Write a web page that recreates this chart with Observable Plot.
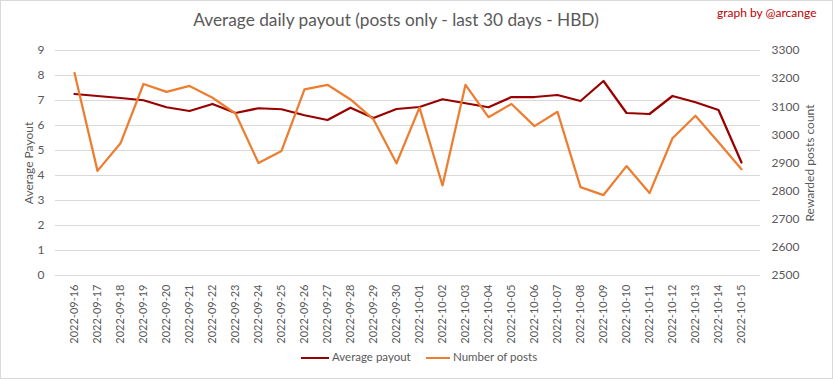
<!DOCTYPE html>
<html>
<head>
<meta charset="utf-8">
<script src="https://cdn.jsdelivr.net/npm/d3@7"></script>
<script src="https://cdn.jsdelivr.net/npm/@observablehq/plot@0.6"></script>
<style>
  body { margin: 0; background: #fff; }
  #wrap { position: relative; width: 833px; height: 379px; overflow: hidden; font-family: Lato, "Open Sans", sans-serif; }
  #frame { position: absolute; left: 0; top: 0; width: 833px; height: 379px; box-sizing: border-box; border: 1px solid #d9d9d9; pointer-events: none; }
  #chart { position: absolute; left: 0; top: 0; }
  #title { position: absolute; left: 396px; top: 9px; transform: translateX(-50%); white-space: nowrap; font-size: 17.3px; color: #595959; font-weight: 400; }
  #credit { position: absolute; left: 717px; top: 5px; white-space: nowrap; font-size: 12px; color: #c00000; }
  #legend { position: absolute; top: 350px; left: 0; width: 833px; height: 16px; font-size: 11.5px; color: #595959; }
  .item { position: absolute; top: 0; white-space: nowrap; }
  .swatch { position: absolute; top: 7px; height: 0; border-top: 2.5px solid; }
</style>
</head>
<body>
<div id="wrap">
  <div id="chart"></div>
  <div id="title">Average daily payout (posts only - last 30 days - HBD)</div>
  <div id="credit">graph by @arcange</div>
  <div id="legend"></div>
  <div id="frame"></div>
</div>
<script>
const dates = [
  "2022-09-16","2022-09-17","2022-09-18","2022-09-19","2022-09-20","2022-09-21","2022-09-22","2022-09-23",
  "2022-09-24","2022-09-25","2022-09-26","2022-09-27","2022-09-28","2022-09-29","2022-09-30","2022-10-01",
  "2022-10-02","2022-10-03","2022-10-04","2022-10-05","2022-10-06","2022-10-07","2022-10-08","2022-10-09",
  "2022-10-10","2022-10-11","2022-10-12","2022-10-13","2022-10-14","2022-10-15"
];
const avgPayout = [
  7.26, 7.18, 7.10, 7.01, 6.73, 6.58, 6.86, 6.50, 6.69, 6.65,
  6.41, 6.22, 6.71, 6.30, 6.66, 6.74, 7.05, 6.89, 6.73, 7.14,
  7.14, 7.22, 6.98, 7.78, 6.50, 6.46, 7.18, 6.93, 6.62, 4.52
];
const numPosts = [
  3220, 2872, 2970, 3181, 3153, 3174, 3132, 3076, 2900, 2943,
  3162, 3178, 3126, 3055, 2899, 3097, 2820, 3178, 3063, 3110,
  3031, 3082, 2814, 2786, 2889, 2793, 2988, 3068, 2974, 2878
];
const leftTicks = [0, 1, 2, 3, 4, 5, 6, 7, 8, 9];
const rightTicks = [2500, 2600, 2700, 2800, 2900, 3000, 3100, 3200, 3300];
const seriesNames = ["Average payout", "Number of posts"];
const seriesColors = ["#990000", "#ED7D31"];

// secondary axis mapped onto the primary scale domain
const rMin = rightTicks[0], rMax = rightTicks[rightTicks.length - 1];
const lMax = leftTicks[leftTicks.length - 1];
const toLeft = v => (v - rMin) * lMax / (rMax - rMin);
const fromLeft = v => String(Math.round(v * (rMax - rMin) / lMax + rMin));

const data = dates.map((d, i) => ({date: d, pay: avgPayout[i], posts: numPosts[i], postsY: toLeft(numPosts[i])}));

const chart = Plot.plot({
  width: 833,
  height: 379,
  marginTop: 50,
  marginBottom: 104,
  marginLeft: 55,
  marginRight: 73,
  style: {fontFamily: "Lato, 'Open Sans', sans-serif", fontSize: "12px", color: "#595959", background: "transparent", overflow: "visible"},
  x: {type: "point", domain: dates, padding: 0.5},
  y: {domain: [0, lMax]},
  marks: [
    Plot.gridY(leftTicks, {stroke: "#d9d9d9", strokeOpacity: 1, strokeWidth: 1}),
    Plot.axisY(leftTicks, {anchor: "left", tickSize: 0, tickPadding: 11, label: null, fill: "#595959"}),
    Plot.axisY(rightTicks.map(toLeft), {anchor: "right", tickSize: 0, tickPadding: 11, label: null, tickFormat: fromLeft, fill: "#595959"}),
    Plot.axisX({tickSize: 0, tickRotate: -90, tickPadding: 9, label: null, fontSize: 11, fill: "#595959"}),
    Plot.text(["Average Payout"], {frameAnchor: "left", textAnchor: "middle", dx: -26, rotate: -90, fontSize: 12, fill: "#595959"}),
    Plot.text(["Rewarded posts count"], {frameAnchor: "right", textAnchor: "middle", dx: 50, rotate: -90, fontSize: 12, fill: "#595959"}),
    Plot.line(data, {x: "date", y: "pay", stroke: seriesColors[0], strokeWidth: 2.25}),
    Plot.line(data, {x: "date", y: "postsY", stroke: seriesColors[1], strokeWidth: 2.25})
  ]
});
document.getElementById("chart").appendChild(chart);

const legend = document.getElementById("legend");
const legendPos = [[301, 332], [426, 453]];
seriesNames.forEach((name, i) => {
  const sw = document.createElement("div");
  sw.className = "swatch";
  sw.style.left = legendPos[i][0] + "px";
  sw.style.width = (legendPos[i][1] - legendPos[i][0] - 3) + "px";
  sw.style.borderColor = seriesColors[i];
  legend.appendChild(sw);
  const t = document.createElement("div");
  t.className = "item";
  t.style.left = legendPos[i][1] + "px";
  t.textContent = name;
  legend.appendChild(t);
});
</script>
</body>
</html>
